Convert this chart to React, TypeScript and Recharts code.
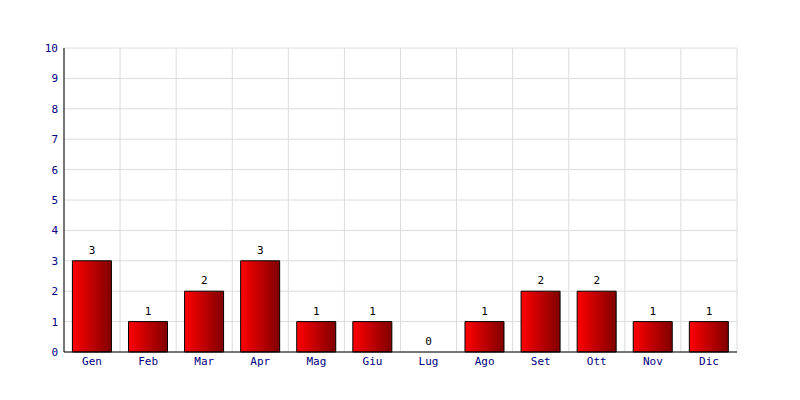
import { ComposedChart, Bar, Line, XAxis, YAxis, CartesianGrid, LabelList } from 'recharts'

const months = ['Gen', 'Feb', 'Mar', 'Apr', 'Mag', 'Giu', 'Lug', 'Ago', 'Set', 'Ott', 'Nov', 'Dic']
const counts = [3, 1, 2, 3, 1, 1, 0, 1, 2, 2, 1, 1]
const yTicks = [0, 1, 2, 3, 4, 5, 6, 7, 8, 9, 10]

const data = months.map((m, i) => ({ name: m, value: counts[i] }))

const font = '"DejaVu Sans Mono", monospace'

// value label above each bar top, drawn even when the value is 0
const ValueLabel = (props: any) => {
  const { x, y, value } = props
  if (x == null || y == null) return null
  return (
    <text x={x} y={Number(y) - 7} textAnchor="middle" fill="#000" fontSize={11} fontFamily={font}>
      {value}
    </text>
  )
}

export default function App() {
  // vertical grid lines sit on category boundaries, not centers
  const verticalLines = ({ offset }: any) => {
    const lines: number[] = []
    for (let i = 0; i <= months.length; i++) {
      lines.push(offset.left + (i * offset.width) / months.length)
    }
    return lines
  }

  return (
    <div style={{ position: 'absolute', left: 0, top: 0, width: 800, height: 400, background: '#fff' }}>
      <ComposedChart
        width={800}
        height={400}
        data={data}
        margin={{ top: 48, right: 63, left: 24, bottom: 18 }}
        barCategoryGap="15%"
      >
        <defs>
          <linearGradient id="barFill" x1="0" y1="0" x2="1" y2="0">
            <stop offset="0%" stopColor="#ff0000" />
            <stop offset="100%" stopColor="#800000" />
          </linearGradient>
        </defs>
        <CartesianGrid stroke="#dcdcdc" verticalCoordinatesGenerator={verticalLines} />
        <XAxis
          dataKey="name"
          tickLine={false}
          tickSize={2}
          tickMargin={3}
          height={30}
          axisLine={{ stroke: '#000' }}
          tick={{ fill: '#000080', fontSize: 11, fontFamily: font }}
          interval={0}
        />
        <YAxis
          domain={[0, 10]}
          ticks={yTicks}
          tickLine={false}
          tickSize={4}
          tickMargin={2}
          width={40}
          axisLine={{ stroke: '#000' }}
          tick={{ fill: '#000080', fontSize: 11, fontFamily: font }}
          interval={0}
        />
        <Bar dataKey="value" fill="url(#barFill)" stroke="#000" strokeWidth={1} isAnimationActive={false} />
        <Line dataKey="value" stroke="none" dot={false} activeDot={false} isAnimationActive={false}>
          <LabelList dataKey="value" content={ValueLabel} />
        </Line>
      </ComposedChart>
    </div>
  )
}
